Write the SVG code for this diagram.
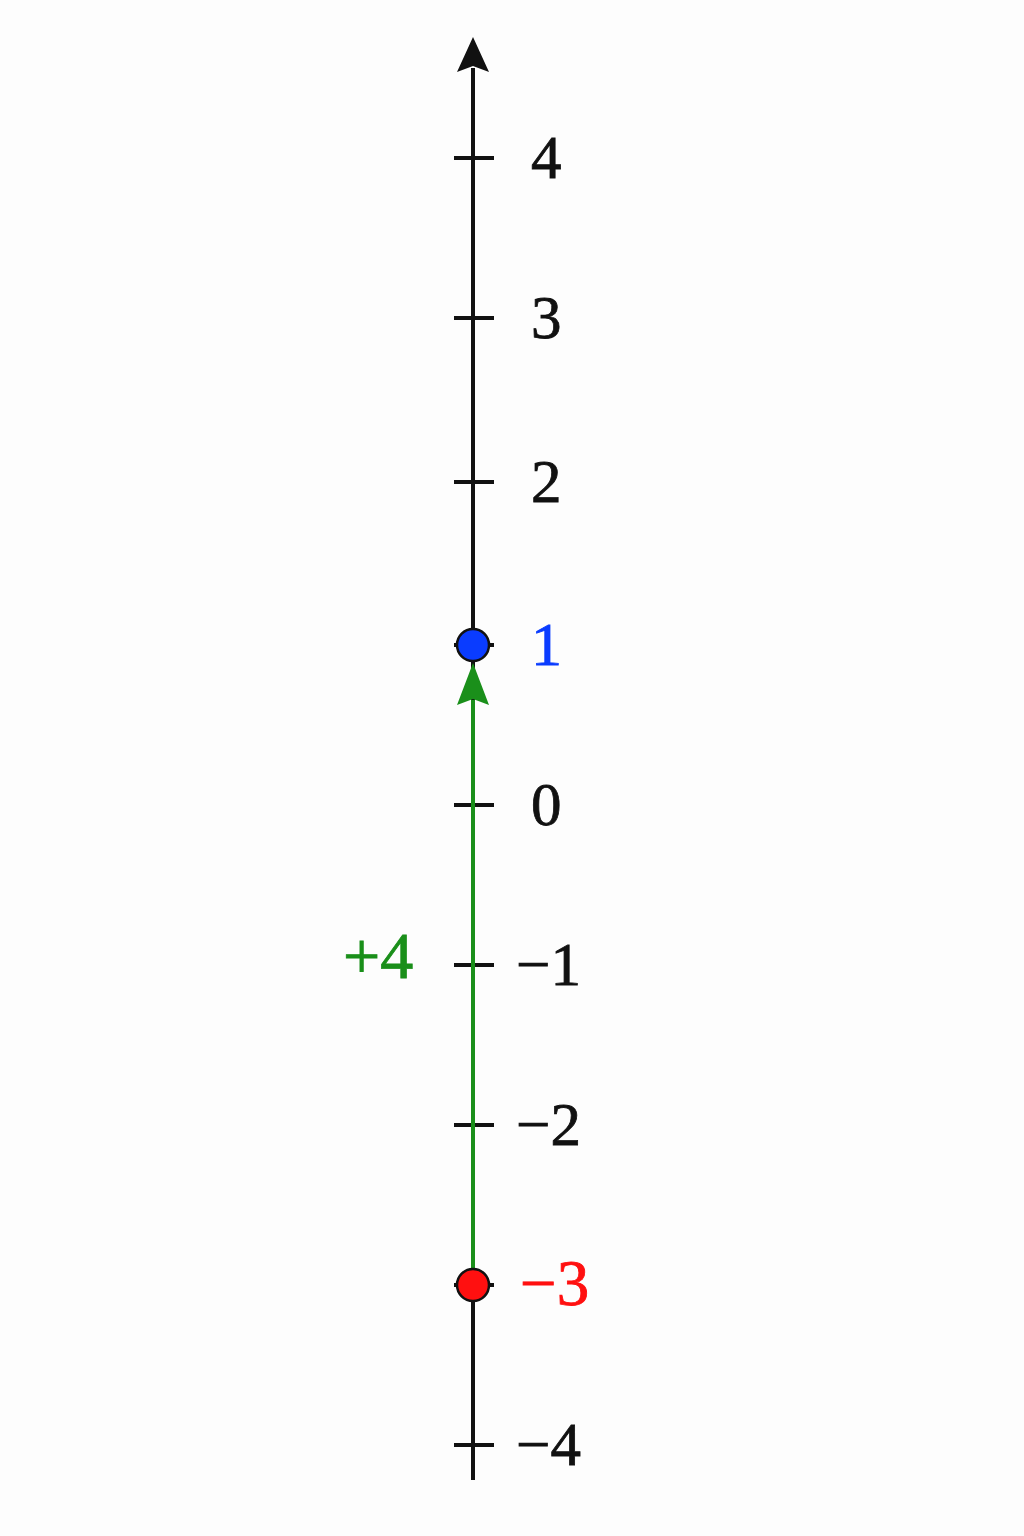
<svg xmlns="http://www.w3.org/2000/svg" width="1024" height="1536" viewBox="0 0 1024 1536">
<style>
.t{font-family:"Liberation Serif","Times New Roman",serif;font-size:61px;fill:#111;stroke:#111;stroke-width:0.8}
.tick{stroke:#111;stroke-width:4}
</style>
<rect width="1024" height="1536" fill="#fdfdfd"/>
<g id="axis">
<line x1="473" y1="1480" x2="473" y2="68" stroke="#111" stroke-width="4"/>
<polygon points="473,37 457,72 473,66 489,72" fill="#111"/>
</g>
<g id="ticks">
<line class="tick" x1="454" y1="158" x2="494" y2="158"/>
<line class="tick" x1="454" y1="318" x2="494" y2="318"/>
<line class="tick" x1="454" y1="482" x2="494" y2="482"/>
<line class="tick" x1="454" y1="645" x2="494" y2="645"/>
<line class="tick" x1="454" y1="805" x2="494" y2="805"/>
<line class="tick" x1="454" y1="965" x2="494" y2="965"/>
<line class="tick" x1="454" y1="1125" x2="494" y2="1125"/>
<line class="tick" x1="454" y1="1285" x2="494" y2="1285"/>
<line class="tick" x1="454" y1="1445" x2="494" y2="1445"/>
</g>
<g id="labels">
<text class="t" x="531" y="178">4</text>
<text class="t" x="531" y="338">3</text>
<text class="t" x="531" y="502">2</text>
<text class="t" x="531" y="825">0</text>
<text class="t" x="516" y="985">−1</text>
<text class="t" x="516" y="1145">−2</text>
<text class="t" x="516" y="1465">−4</text>
</g>
<g id="connectors">
<line x1="473" y1="1270" x2="473" y2="700" stroke="#1a8f1a" stroke-width="4"/>
<polygon points="473,663 457,705 473,699 489,705" fill="#1a8f1a"/>
</g>
<g id="start">
<circle cx="473" cy="1285" r="16" fill="#ff1010" stroke="#111" stroke-width="2.5"/>
<text class="t" x="520" y="1305" style="fill:#ff1010;stroke:#ff1010;font-size:65px">−3</text>
</g>
<g id="end">
<circle cx="473" cy="645" r="16" fill="#0a3cff" stroke="#111" stroke-width="2.5"/>
<text class="t" x="531" y="665" style="fill:#0a3cff;stroke:#0a3cff;font-size:62px">1</text>
</g>
<g id="step">
<text class="t" x="343" y="978" style="fill:#1a8f1a;stroke:#1a8f1a;font-size:66px">+4</text>
</g>
</svg>
